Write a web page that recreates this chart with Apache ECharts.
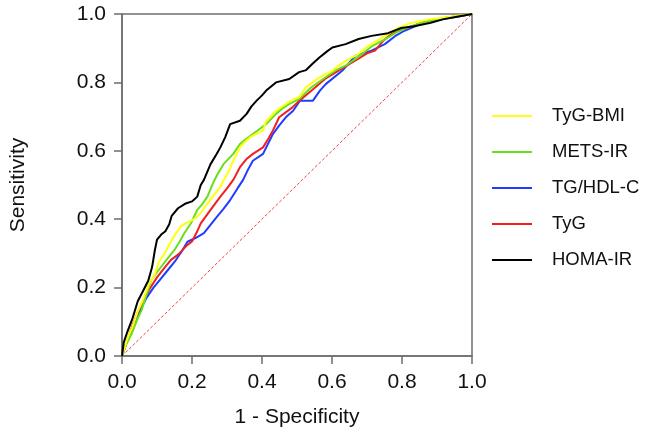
<!DOCTYPE html>
<html>
<head>
<meta charset="utf-8">
<script src="https://cdn.jsdelivr.net/npm/echarts@6/dist/echarts.min.js"></script>
<style>html,body{margin:0;padding:0;background:#fff}#c{width:645px;height:436px}</style>
</head>
<body>
<div id="c"></div>
<script>
const xTicks = [0, 0.2, 0.4, 0.6, 0.8, 1.0];
const seriesNames = ['TyG-BMI', 'METS-IR', 'TG/HDL-C', 'TyG', 'HOMA-IR'];

const homaIR = [[0,0],[0.005,0.04],[0.015,0.07],[0.03,0.11],[0.045,0.16],[0.06,0.19],[0.075,0.22],[0.086,0.26],[0.094,0.31],[0.1,0.34],[0.112,0.355],[0.124,0.365],[0.135,0.385],[0.142,0.41],[0.16,0.432],[0.18,0.445],[0.2,0.452],[0.215,0.466],[0.225,0.5],[0.234,0.515],[0.253,0.561],[0.27,0.59],[0.281,0.61],[0.295,0.64],[0.309,0.678],[0.337,0.688],[0.356,0.708],[0.37,0.73],[0.384,0.746],[0.4,0.762],[0.412,0.776],[0.44,0.8],[0.478,0.81],[0.506,0.83],[0.526,0.836],[0.545,0.855],[0.564,0.873],[0.585,0.89],[0.601,0.902],[0.639,0.912],[0.676,0.927],[0.713,0.936],[0.76,0.944],[0.798,0.959],[0.834,0.964],[0.882,0.974],[0.919,0.985],[0.957,0.992],[1,1]];

const tygBMI = [[0,0],[0.015,0.05],[0.03,0.086],[0.045,0.13],[0.058,0.16],[0.077,0.21],[0.094,0.24],[0.105,0.275],[0.122,0.3],[0.133,0.322],[0.15,0.352],[0.169,0.38],[0.185,0.39],[0.197,0.395],[0.212,0.405],[0.225,0.418],[0.24,0.44],[0.253,0.458],[0.27,0.48],[0.281,0.495],[0.29,0.513],[0.305,0.54],[0.318,0.571],[0.337,0.61],[0.35,0.625],[0.365,0.639],[0.385,0.65],[0.403,0.659],[0.412,0.688],[0.425,0.7],[0.44,0.717],[0.468,0.737],[0.489,0.75],[0.506,0.757],[0.526,0.786],[0.545,0.8],[0.564,0.815],[0.601,0.834],[0.62,0.85],[0.639,0.863],[0.676,0.883],[0.695,0.9],[0.713,0.912],[0.751,0.936],[0.788,0.959],[0.826,0.974],[0.882,0.985],[0.938,0.992],[1,1]];

const metsIR = [[0,0],[0.01,0.03],[0.028,0.066],[0.045,0.11],[0.056,0.134],[0.07,0.18],[0.084,0.222],[0.1,0.245],[0.112,0.261],[0.13,0.285],[0.15,0.31],[0.165,0.335],[0.178,0.359],[0.197,0.388],[0.215,0.427],[0.23,0.445],[0.244,0.466],[0.262,0.51],[0.275,0.535],[0.29,0.561],[0.318,0.591],[0.337,0.62],[0.355,0.635],[0.374,0.649],[0.395,0.665],[0.412,0.678],[0.44,0.708],[0.46,0.725],[0.478,0.737],[0.506,0.751],[0.54,0.785],[0.582,0.815],[0.61,0.835],[0.64,0.85],[0.676,0.875],[0.713,0.905],[0.75,0.925],[0.79,0.95],[0.845,0.971],[0.9,0.985],[0.95,0.993],[1,1]];

const tyg = [[0,0],[0.01,0.03],[0.03,0.09],[0.05,0.14],[0.065,0.17],[0.077,0.193],[0.1,0.23],[0.124,0.261],[0.14,0.281],[0.161,0.297],[0.187,0.325],[0.2,0.335],[0.215,0.365],[0.225,0.388],[0.253,0.427],[0.281,0.466],[0.3,0.49],[0.318,0.515],[0.337,0.552],[0.355,0.575],[0.374,0.591],[0.403,0.61],[0.418,0.635],[0.431,0.659],[0.449,0.698],[0.487,0.727],[0.506,0.746],[0.54,0.775],[0.58,0.81],[0.62,0.835],[0.66,0.86],[0.7,0.885],[0.723,0.893],[0.745,0.92],[0.77,0.942],[0.81,0.958],[0.86,0.975],[0.92,0.988],[1,1]];

const tgHDL = [[0,0],[0.01,0.03],[0.03,0.085],[0.05,0.13],[0.07,0.17],[0.09,0.2],[0.11,0.225],[0.13,0.25],[0.15,0.275],[0.17,0.305],[0.187,0.334],[0.21,0.345],[0.234,0.359],[0.25,0.38],[0.271,0.407],[0.29,0.43],[0.309,0.456],[0.33,0.49],[0.346,0.515],[0.36,0.545],[0.374,0.571],[0.403,0.591],[0.431,0.649],[0.45,0.675],[0.468,0.698],[0.489,0.717],[0.508,0.746],[0.545,0.746],[0.565,0.775],[0.582,0.795],[0.629,0.834],[0.667,0.878],[0.713,0.893],[0.751,0.912],[0.78,0.935],[0.807,0.951],[0.863,0.975],[0.919,0.985],[0.96,0.993],[1,1]];

const reference = [[0,0],[1,1]];

const font = 'Liberation Sans, Arial, Helvetica, sans-serif';
const chart = echarts.init(document.getElementById('c'), null, {renderer: 'canvas'});

function line(name, data, color, z) {
  return {name, type: 'line', data, symbol: 'none', z,
    lineStyle: {color, width: 2}, itemStyle: {color}, animation: false};
}

chart.setOption({
  backgroundColor: '#fff',
  animation: false,
  grid: {left: 116, right: 173, top: 14, bottom: 80, show: true, borderColor: '#6e6e6e', borderWidth: 1.5},
  legend: {
    orient: 'vertical', left: 492, top: 106, padding: 0,
    data: seriesNames,
    icon: 'rect',
    itemWidth: 40, itemHeight: 2, itemGap: 16,
    textStyle: {fontFamily: font, fontSize: 18.5, color: '#111', lineHeight: 20, padding: [0, 0, 0, 15]}
  },
  xAxis: {
    type: 'value', min: 0, max: 1, interval: 0.2,
    name: '1 - Specificity', nameLocation: 'middle', nameGap: 51,
    nameTextStyle: {fontFamily: font, fontSize: 21, color: '#111'},
    axisLine: {show: true, lineStyle: {color: '#6e6e6e', width: 1.5}},
    axisTick: {show: true, length: 8, lineStyle: {color: '#6e6e6e', width: 1.5}},
    axisLabel: {fontFamily: font, fontSize: 21, color: '#111', margin: 16,
      formatter: v => v.toFixed(1)},
    splitLine: {show: false}
  },
  yAxis: {
    type: 'value', min: 0, max: 1, interval: 0.2,
    name: 'Sensitivity', nameLocation: 'middle', nameGap: 93,
    nameTextStyle: {fontFamily: font, fontSize: 21, color: '#111'},
    axisLine: {show: true, lineStyle: {color: '#6e6e6e', width: 1.5}},
    axisTick: {show: true, length: 8, lineStyle: {color: '#6e6e6e', width: 1.5}},
    axisLabel: {fontFamily: font, fontSize: 21, color: '#111', margin: 16,
      formatter: v => v.toFixed(1)},
    splitLine: {show: false}
  },
  series: [
    {name: 'ref', type: 'line', data: reference, symbol: 'none', z: 1,
      lineStyle: {color: '#f04040', width: 1, type: [3, 2]}},
    line('TG/HDL-C', tgHDL, '#1f3dff', 2),
    line('TyG', tyg, '#f02020', 3),
    line('METS-IR', metsIR, '#66e01a', 4),
    line('TyG-BMI', tygBMI, '#ffff10', 5),
    line('HOMA-IR', homaIR, '#000000', 6)
  ]
});
</script>
</body>
</html>
